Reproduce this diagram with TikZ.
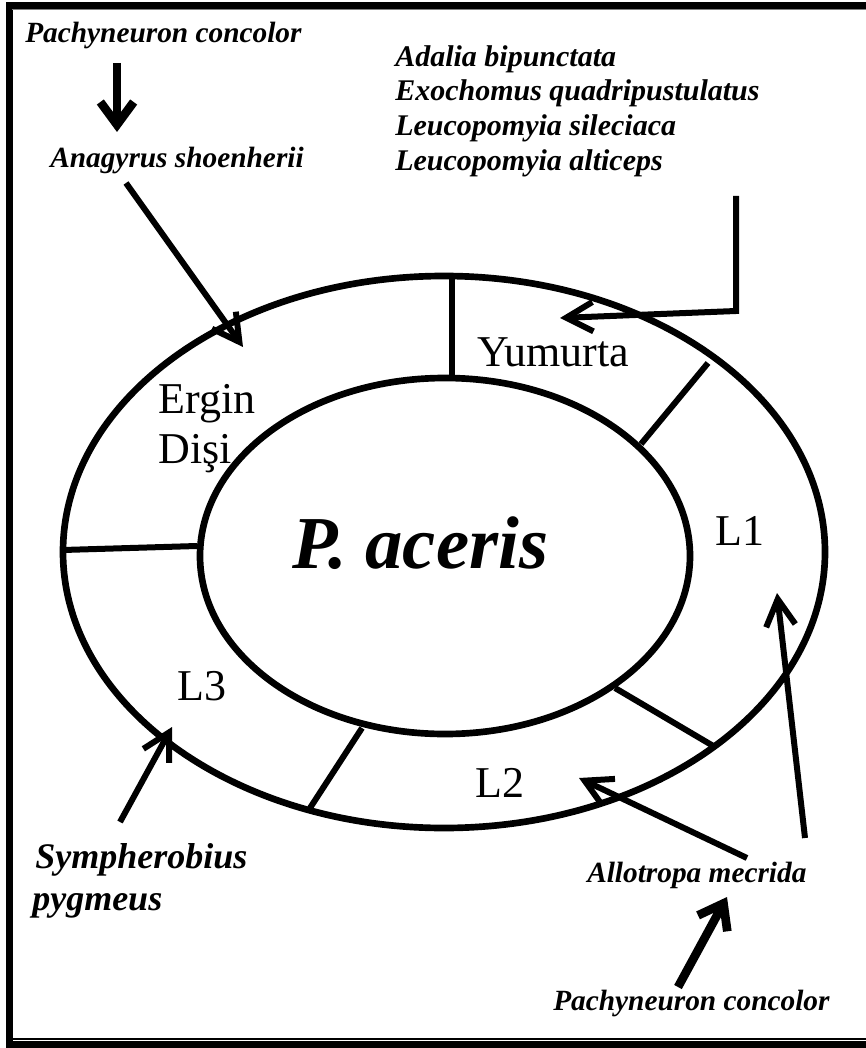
\documentclass[tikz,border=0pt]{standalone}
\usepackage{fontspec}
\setmainfont{Liberation Serif}
\usetikzlibrary{arrows.meta,shapes.geometric}
\begin{document}
\begin{tikzpicture}[x=0.75pt,y=-0.75pt,
  ring/.style={draw,ellipse,line width=5pt,inner sep=0pt,outer sep=0pt},
  divider/.style={line width=4.5pt},
  arr/.style={line width=4.5pt,-{Straight Barb[length=20pt,width=22pt]}},
  thickarr/.style={line width=6.5pt,-{Straight Barb[length=17pt,width=25pt]}},
  stage/.style={font=\fontsize{33}{38}\selectfont,inner sep=0pt,anchor=base west},
  species/.style={font=\fontsize{22}{26}\selectfont\bfseries\itshape,inner sep=0pt,anchor=base west},
  listspecies/.style={font=\fontsize{22.5}{26}\selectfont\bfseries\itshape,inner sep=0pt,anchor=base west},
  bigspecies/.style={font=\fontsize{27}{32}\selectfont\bfseries\itshape,inner sep=0pt,anchor=base west}
]
\useasboundingbox (0,0) rectangle (866,1048);
\clip (0,0) rectangle (866,1048);
% frame
\draw[line width=5.25pt] (9,5.5) rectangle (900,1044.5);
\draw[line width=0.75pt,gray] (12,9.8) -- (866,9.8);
\draw[line width=1.1pt] (12,1039) -- (866,1039);

% ellipses
\node[ring,minimum width=571.5pt,minimum height=414pt] (outer) at (444,552) {};
\node[ring,minimum width=367.5pt,minimum height=267pt] (inner) at (445,556) {};

% dividers
\coordinate (d1o) at (452,278); \coordinate (d1i) at (452,378);
\coordinate (d2o) at (708,363); \coordinate (d2i) at (641,444);
\coordinate (d3o) at (63,550);  \coordinate (d3i) at (197,546);
\coordinate (d4o) at (715,747); \coordinate (d4i) at (615,688);
\coordinate (d5o) at (310,808); \coordinate (d5i) at (362,728);
\draw[divider] (d1o) -- (d1i);
\draw[divider] (d2o) -- (d2i);
\draw[divider] (d3o) -- (d3i);
\draw[divider] (d4o) -- (d4i);
\draw[divider] (d5o) -- (d5i);

% stage labels
\node[stage] (yum) at (477,366) {Yumurta};
\node[stage] (erg) at (158,413) {Ergin};
\node[stage] (dis) at (158,463) {Dişi};
\node[stage] (l1) at (715,545) {L1};
\node[stage] (l2) at (475,797) {L2};
\node[stage] (l3) at (177,700) {L3};
\node[inner sep=0pt,anchor=base west,font=\fontsize{56}{64}\selectfont\bfseries\itshape] (pa) at (292,568) {P. aceris};

% species labels
\node[species] (pc1) at (25,43) {Pachyneuron concolor};
\node[species] (an) at (50,168) {Anagyrus shoenherii};
\node[listspecies] (ad) at (395,67) {Adalia bipunctata};
\node[listspecies] (ex) at (395,101) {Exochomus quadripustulatus};
\node[listspecies] (ls) at (395,136) {Leucopomyia sileciaca};
\node[listspecies] (la) at (395,171) {Leucopomyia alticeps};
\node[bigspecies] (sy) at (35,868) {Sympherobius};
\node[bigspecies] (py) at (32,910) {pygmeus};
\node[species] (al) at (587,882) {Allotropa mecrida};
\node[species] (pc2) at (553,1010) {Pachyneuron concolor};

% arrows
\coordinate (a1s) at (117,63);  \coordinate (a1e) at (117,132);
\draw[thickarr] (a1s) -- (a1e);
\coordinate (a2s) at (126,183); \coordinate (a2e) at (243,347);
\draw[arr] (a2s) -- (a2e);
\coordinate (a3s) at (736,196); \coordinate (a3c) at (736,311); \coordinate (a3e) at (560,318);
\draw[arr,line join=miter] (a3s) -- (a3c) -- (a3e);
\coordinate (a4s) at (120,822); \coordinate (a4e) at (172,727);
\draw[arr] (a4s) -- (a4e);
\coordinate (a5s) at (747,858); \coordinate (a5e) at (579,778);
\draw[arr] (a5s) -- (a5e);
\coordinate (a6s) at (805,838); \coordinate (a6e) at (777,593);
\draw[arr] (a6s) -- (a6e);
\coordinate (a7s) at (678,987); \coordinate (a7e) at (727,897);
\draw[thickarr] (a7s) -- (a7e);
\end{tikzpicture}
\end{document}
